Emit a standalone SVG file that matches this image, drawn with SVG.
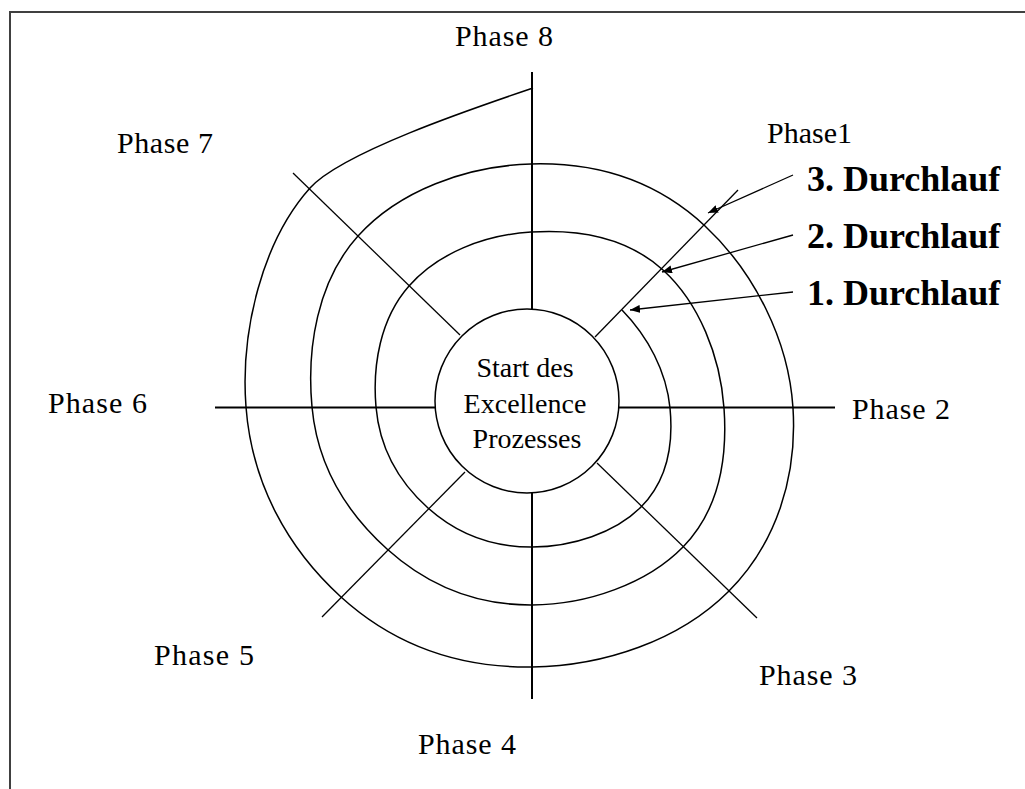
<svg xmlns="http://www.w3.org/2000/svg" width="1025" height="789" viewBox="0 0 1025 789">
<style>
.lbl{font-family:"Liberation Serif","Times New Roman",serif;font-size:30px;fill:#000}
.run{font-family:"Liberation Serif","Times New Roman",serif;font-size:36px;font-weight:bold;fill:#000}
.ctr{font-family:"Liberation Serif","Times New Roman",serif;font-size:28px;fill:#000;text-anchor:middle}
.axis{stroke:#000;stroke-width:2;fill:none}
.diag{stroke:#000;stroke-width:1.3;fill:none}
.spiral{stroke:#000;stroke-width:1.5;fill:none}
.arr{stroke:#000;stroke-width:1.3;fill:none;marker-end:url(#ah)}
</style>
<defs>
<marker id="ah" viewBox="0 0 10 8" refX="10" refY="4" markerWidth="10" markerHeight="8" markerUnits="userSpaceOnUse" orient="auto">
<path d="M0,0 L10,4 L0,8 z" fill="#000"/>
</marker>
</defs>
<rect width="1025" height="789" fill="#fff"/>
<path d="M10,789 V12 H1025" stroke="#404040" stroke-width="2" fill="none"/>

<g id="connectors">
<line class="axis" x1="532" y1="72" x2="532" y2="309"/>
<line class="axis" x1="532" y1="493" x2="532" y2="699"/>
<line class="axis" x1="215" y1="407.5" x2="435" y2="407.5"/>
<line class="axis" x1="618" y1="407.5" x2="835" y2="407.5"/>
<line class="diag" x1="595" y1="337" x2="738" y2="190"/>
<line class="diag" x1="597" y1="463" x2="757" y2="618"/>
<line class="diag" x1="465" y1="472" x2="322" y2="617"/>
<line class="diag" x1="293" y1="173" x2="460" y2="335"/>
<path id="spiral" class="spiral" d="M622,310 C648,336.7 666.4,371.3 670,408 C673.6,444.7 666.8,481 641,507 C615.2,533 571.8,546.8 532,547 C492.2,547.2 457.1,534.1 428,508 C398.9,481.9 379.6,448.4 376,407 C372.4,365.6 380.1,318.7 409,286 C437.9,253.3 483.6,235 531,232 C578.4,229 626.9,237.2 663,270 C699.1,302.8 720.3,356.3 724,408 C727.7,459.7 718.8,510.3 683,547 C647.2,583.7 587.2,604.7 532,605 C476.8,605.3 428.1,586 387,549 C345.9,512 317.4,465.5 312,407 C306.6,348.5 317.1,281.4 358,236 C398.9,190.6 466.3,165.9 531,164 C595.7,162.1 656.1,180.4 705,226 C753.9,271.6 788.7,339.7 793,408 C797.3,476.3 776.7,543.6 728,592 C679.3,640.4 604.2,666.1 532,667 C459.8,667.9 394.4,645.5 341,597 C287.6,548.5 251.8,483.4 246,407 C240.2,330.6 262.5,241 310,188 C341.7,152.7 471,109 533,88"/>
<line class="arr" x1="793" y1="175" x2="708" y2="213"/>
<line class="arr" x1="793" y1="235" x2="662" y2="272"/>
<line class="arr" x1="793" y1="292" x2="630" y2="310"/>
</g>

<g id="start">
<circle cx="527" cy="401" r="92" fill="#fff" stroke="#000" stroke-width="1.5"/>
<text class="ctr" x="525" y="377">Start des</text>
<text class="ctr" x="525" y="413">Excellence</text>
<text class="ctr" x="527" y="448">Prozesses</text>
</g>

<g id="phase1"><text class="lbl" x="767" y="143" textLength="85" lengthAdjust="spacing">Phase1</text></g>
<g id="phase2"><text class="lbl" x="852" y="419" textLength="98" lengthAdjust="spacing">Phase 2</text></g>
<g id="phase3"><text class="lbl" x="759" y="685" textLength="98" lengthAdjust="spacing">Phase 3</text></g>
<g id="phase4"><text class="lbl" x="418" y="754" textLength="98" lengthAdjust="spacing">Phase 4</text></g>
<g id="phase5"><text class="lbl" x="154" y="665" textLength="100" lengthAdjust="spacing">Phase 5</text></g>
<g id="phase6"><text class="lbl" x="48" y="413" textLength="99" lengthAdjust="spacing">Phase 6</text></g>
<g id="phase7"><text class="lbl" x="117" y="153" textLength="96" lengthAdjust="spacing">Phase 7</text></g>
<g id="phase8"><text class="lbl" x="455" y="46" textLength="98" lengthAdjust="spacing">Phase 8</text></g>

<g id="durchlauf3"><text class="run" x="807" y="191">3. Durchlauf</text></g>
<g id="durchlauf2"><text class="run" x="807" y="248">2. Durchlauf</text></g>
<g id="durchlauf1"><text class="run" x="807" y="305">1. Durchlauf</text></g>
</svg>
